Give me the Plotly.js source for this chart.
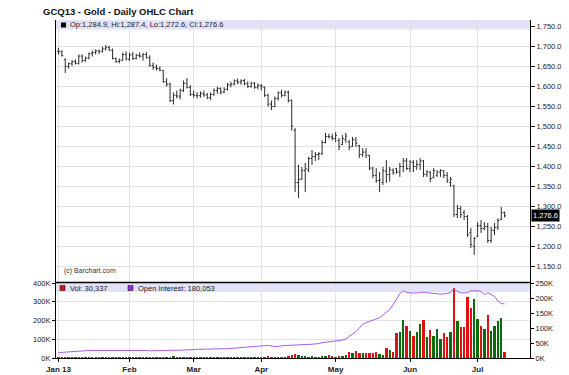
<!DOCTYPE html>
<html>
<head>
<meta charset="utf-8">
<script src="https://cdn.plot.ly/plotly-3.0.1.min.js"></script>
<style>html,body{margin:0;padding:0;background:#fff;}#chart{width:569px;height:375px;}</style>
</head>
<body>
<div id="chart"></div>
<script>
// Trading-day index of each bar (Jan 2 2013 .. Jul 12 2013)
const monthStartIdx = [0, 21, 40, 60, 82, 104, 124];
const monthLabels = ['Jan 13', 'Feb', 'Mar', 'Apr', 'May', 'Jun', 'Jul'];

const openP = [1688,1687,1668,1650,1657,1662,1658,1676,1665,1671,1682,1685,1689,1688,1694,1698,1691,1670,1662,1666,1680,
1668,1679,1670,1678,1676,1680,1672,1652,1648,1645,1640,1612,1606,1565,1578,1576,1590,1608,1598,
1580,1578,1577,1582,1579,1572,1580,1590,1595,1586,1593,1604,1606,1614,1611,1615,1607,1600,1608,1598,
1603,1598,1578,1556,1550,1570,1584,1578,1586,1565,1490,1360,1368,1390,1392,1420,1425,1430,1432,1460,1475,1474,
1470,1465,1455,1468,1462,1450,1466,1452,1430,1436,1428,1396,1378,1365,1360,1388,1380,1390,1394,1386,1400,1414,
1395,1410,1400,1405,1414,1380,1386,1372,1378,1386,1390,1378,1360,1352,1280,1295,1285,1275,1235,1200,
1225,1252,1245,1250,1215,1240,1248,1268,1284.9];
const highP = [1697,1691,1670,1660,1666,1668,1680,1680,1675,1685,1690,1693,1692,1700,1704,1702,1695,1673,1670,1685,1688,
1684,1686,1682,1685,1684,1686,1678,1660,1655,1650,1641,1621,1610,1585,1590,1595,1615,1621,1603,
1590,1586,1588,1590,1584,1585,1595,1600,1598,1598,1609,1612,1618,1620,1618,1619,1613,1612,1611,1608,
1606,1600,1582,1565,1575,1588,1592,1590,1590,1568,1496,1404,1399,1409,1424,1441,1436,1436,1466,1484,1482,1482,
1486,1471,1479,1484,1466,1474,1474,1454,1446,1446,1429,1399,1396,1386,1399,1416,1399,1396,1396,1409,1421,1421,
1416,1416,1416,1421,1416,1391,1388,1396,1391,1393,1391,1386,1374,1354,1304,1301,1291,1279,1246,1224,
1261,1266,1261,1259,1249,1259,1271,1299,1287.4];
const lowP = [1680,1675,1634,1645,1651,1655,1655,1660,1662,1668,1675,1680,1681,1685,1690,1689,1668,1659,1658,1664,1665,
1664,1666,1668,1672,1665,1670,1650,1642,1640,1638,1609,1600,1561,1555,1570,1568,1586,1595,1576,
1572,1570,1572,1574,1568,1566,1577,1582,1580,1583,1590,1598,1603,1606,1604,1603,1596,1597,1594,1593,
1590,1574,1550,1541,1548,1565,1572,1575,1560,1490,1336,1321,1366,1336,1386,1404,1414,1416,1429,1458,1470,1465,
1461,1441,1454,1459,1441,1449,1449,1421,1424,1421,1391,1371,1359,1336,1354,1359,1362,1379,1382,1374,1386,1391,
1386,1386,1391,1391,1374,1374,1361,1371,1374,1374,1371,1359,1349,1274,1271,1271,1266,1224,1196,1179,
1224,1234,1241,1209,1209,1229,1241,1266,1272.6];
const closeP = [1687,1677,1650,1657,1662,1658,1676,1665,1671,1682,1685,1689,1688,1694,1698,1691,1670,1662,1666,1680,1669,
1679,1670,1678,1676,1680,1672,1652,1648,1645,1641,1612,1606,1565,1578,1576,1590,1608,1598,1580,
1578,1577,1582,1579,1572,1580,1590,1595,1586,1593,1604,1606,1614,1611,1615,1607,1600,1608,1598,1603,
1600,1578,1556,1550,1570,1584,1578,1586,1565,1501,1360,1368,1390,1395,1420,1425,1430,1432,1460,1475,1474,1470,
1478,1450,1470,1476,1448,1468,1458,1430,1436,1428,1396,1378,1365,1366,1390,1380,1392,1385,1386,1400,1414,1395,
1412,1400,1405,1414,1380,1386,1370,1390,1386,1390,1378,1365,1368,1280,1295,1280,1275,1230,1205,1220,
1252,1245,1250,1215,1240,1248,1265,1284,1276.6];

// Volume and open interest, in thousands of contracts
const volumeK = [4,6,8,5,4,5,6,3,4,5,4,6,5,4,5,6,7,5,4,5,6,
5,4,6,5,4,5,6,7,6,5,6,8,7,9,6,5,6,5,6,
5,4,5,6,5,4,6,5,6,7,5,6,5,6,5,7,6,5,6,8,
7,6,9,8,6,7,6,8,9,14,22,18,12,9,8,10,8,7,9,10,18,9,8,10,12,14,
31,25,40,25,25,25,25,25,31,22,18,54,42,30,
133,139,205,169,142,119,141,180,202,112,151,117,153,103,132,112,139,373,196,164,164,328,265,313,207,171,153,232,142,169,196,211,30.337];
const openInterestK = [18,19,20,21,22,23,24,25,25,25,25,25,25.5,26,26,26,26.5,27,27,27,27,
27,27,27.5,27,26,25,24,24.5,25,26,26.5,27,27,26.5,26,26,26,26.5,27,
28,29,29,29,29,28.5,28.5,29,29.5,30,31,32,33,33.5,34,35,36,37,38,39,
40,41,42,40,38,39,41,42,42,43,44,45,45,45,45,45.5,46,48,51,53,54,55,
57,58,60,63,72,80,88,100,112,118,122,126,130,134,143,152,162,178,195,215,224,219,
217,216,217,218,220,218,216,215,214,213,213,215,220,231,222,217,217,218,224,225,
224,222,211,218,212,205,190,182,180.053];

const priceTicks = [1150,1200,1250,1300,1350,1400,1450,1500,1550,1600,1650,1700,1750];
const volTicks = [0,100,200,300,400];
const volTickText = ['0K','100K','200K','300K','400K'];
const oiTicks = [0,50,100,150,200,250];
const oiTickText = ['0K','50K','100K','150K','200K','250K'];

const idx = closeP.map((_, i) => i);
const last = closeP.length - 1;
const volColors = closeP.map((c, i) => c >= openP[i] ? '#0b6b0b' : '#dd1111');

const W = 569, H = 375, L = 56, R = 39, T = 20, B = 17;
const PW = W - L - R, PH = H - T - B;
const px = x => (x - L) / PW;
const py = y => (H - B - y) / PH;
const split = py(282.5);

const fmt1 = v => v.toLocaleString('en-US', {minimumFractionDigits: 1, maximumFractionDigits: 1});
const fmt0 = v => Math.round(v).toLocaleString('en-US');

const FONT = 'Liberation Sans, Arial, sans-serif';
const GRID = '#e2e2e2';

const traces = [
  {
    type: 'ohlc', x: idx, open: openP, high: highP, low: lowP, close: closeP,
    xaxis: 'x', yaxis: 'y', tickwidth: 0.4,
    increasing: {line: {color: '#2a2a2a', width: 1}},
    decreasing: {line: {color: '#2a2a2a', width: 1}},
    hoverinfo: 'skip', showlegend: false
  },
  {
    type: 'bar', x: idx, y: volumeK, xaxis: 'x2', yaxis: 'y2',
    marker: {color: volColors, line: {width: 0}}, width: 0.7,
    hoverinfo: 'skip', showlegend: false
  },
  {
    type: 'scatter', mode: 'lines', x: idx, y: openInterestK, xaxis: 'x2', yaxis: 'y3',
    line: {color: '#a45cf0', width: 1}, hoverinfo: 'skip', showlegend: false
  }
];

const tickFont = {family: FONT, size: 7.5, color: '#222'};

const layout = {
  width: W, height: H,
  margin: {l: L, r: R, t: T, b: B, pad: 0},
  paper_bgcolor: '#fff', plot_bgcolor: '#fff',
  font: {family: FONT, size: 7.5, color: '#222'},
  title: {
    text: 'GCQ13 - Gold - Daily OHLC Chart',
    font: {family: FONT, size: 9.5, color: '#111', weight: 'bold'},
    xref: 'container', yref: 'container', x: 43 / W, xanchor: 'left',
    y: 1 - 11.5 / H, yanchor: 'middle'
  },
  showlegend: false,
  bargap: 0,
  xaxis: {
    domain: [0, 1], anchor: 'y', range: [-0.74, 139.5],
    tickvals: monthStartIdx, showticklabels: false, ticks: '',
    showgrid: true, gridcolor: GRID, gridwidth: 1, zeroline: false, showline: false,
    rangeslider: {visible: false}, fixedrange: true
  },
  yaxis: {
    domain: [split, 1], anchor: 'x', side: 'right', range: [1110, 1766.25],
    tickvals: priceTicks, tickformat: ',.1f', tickfont: tickFont,
    ticklabeloverflow: 'allow',
    showgrid: true, gridcolor: GRID, zeroline: false,
    showline: true, linecolor: '#000', linewidth: 1, mirror: true,
    ticks: 'outside', ticklen: 4, tickcolor: '#000'
  },
  xaxis2: {
    domain: [0, 1], anchor: 'y2', matches: 'x', range: [-0.74, 139.5],
    tickvals: monthStartIdx, ticktext: monthLabels,
    tickfont: {family: FONT, size: 8, color: '#222', weight: 'bold'},
    showgrid: true, gridcolor: GRID, zeroline: false,
    showline: true, linecolor: '#000', linewidth: 1, mirror: true,
    ticks: 'outside', ticklen: 3, tickcolor: '#000',
    rangeslider: {visible: false}
  },
  yaxis2: {
    domain: [0, split], anchor: 'x2', side: 'left', range: [0, 402.67],
    tickvals: volTicks, ticktext: volTickText, tickfont: tickFont,
    ticklabeloverflow: 'allow',
    showgrid: true, gridcolor: GRID, zeroline: false,
    showline: true, linecolor: '#000', linewidth: 1, mirror: true,
    ticks: 'outside', ticklen: 3, tickcolor: '#000'
  },
  yaxis3: {
    overlaying: 'y2', anchor: 'x2', side: 'right', range: [0, 251.67],
    tickvals: oiTicks, ticktext: oiTickText, tickfont: tickFont,
    ticklabeloverflow: 'allow',
    showgrid: false, zeroline: false, showline: false,
    ticks: 'outside', ticklen: 3, tickcolor: '#000'
  },
  shapes: [
    // legend bands
    {type: 'rect', xref: 'paper', yref: 'paper', x0: 0, x1: 1, y0: py(29.5), y1: 1,
     fillcolor: '#e3e3f8', line: {width: 0}, layer: 'below'},
    {type: 'rect', xref: 'paper', yref: 'paper', x0: 0, x1: 1, y0: py(292), y1: split,
     fillcolor: '#e3e3f8', line: {width: 0}, layer: 'below'},
    // legend swatches
    {type: 'rect', xref: 'paper', yref: 'paper', x0: px(61), x1: px(66), y0: py(27.5), y1: py(22.5),
     fillcolor: '#000', line: {width: 0}},
    {type: 'rect', xref: 'paper', yref: 'paper', x0: px(60), x1: px(65), y0: py(290.5), y1: py(285.5),
     fillcolor: '#dd1111', line: {color: '#000', width: 0.5}},
    {type: 'rect', xref: 'paper', yref: 'paper', x0: px(128), x1: px(133), y0: py(290.5), y1: py(285.5),
     fillcolor: '#9a2fe0', line: {color: '#000', width: 0.5}},
    // heavier divider between panels
    {type: 'line', xref: 'paper', yref: 'paper', x0: 0, x1: 1, y0: split, y1: split,
     line: {color: '#000', width: 1.6}}
  ],
  annotations: [
    {xref: 'paper', yref: 'paper', x: px(68), y: py(25), xanchor: 'left', yanchor: 'middle',
     text: 'Op:' + fmt1(openP[last]) + ', Hi:' + fmt1(highP[last]) + ', Lo:' + fmt1(lowP[last]) + ', Cl:' + fmt1(closeP[last]),
     showarrow: false, font: {family: FONT, size: 7.5, color: '#222'}},
    {xref: 'paper', yref: 'paper', x: px(67.5), y: py(288), xanchor: 'left', yanchor: 'middle',
     text: 'Vol: ' + fmt0(volumeK[last] * 1000), showarrow: false, font: {family: FONT, size: 7.5, color: '#222'}},
    {xref: 'paper', yref: 'paper', x: px(136), y: py(288), xanchor: 'left', yanchor: 'middle',
     text: 'Open Interest: ' + fmt0(openInterestK[last] * 1000), showarrow: false, font: {family: FONT, size: 7.5, color: '#222'}},
    {xref: 'paper', yref: 'paper', x: px(62), y: py(271), xanchor: 'left', yanchor: 'middle',
     text: '(c) Barchart.com', showarrow: false, font: {family: FONT, size: 7, color: '#333'}},
    {xref: 'paper', yref: 'y', x: 1, y: closeP[last], xanchor: 'left', yanchor: 'middle', xshift: 1,
     text: fmt1(closeP[last]), showarrow: false, bgcolor: '#000', borderpad: 1,
     font: {family: FONT, size: 7.5, color: '#fff'}}
  ]
};

Plotly.newPlot('chart', traces, layout, {staticPlot: true, displayModeBar: false});
</script>
</body>
</html>
